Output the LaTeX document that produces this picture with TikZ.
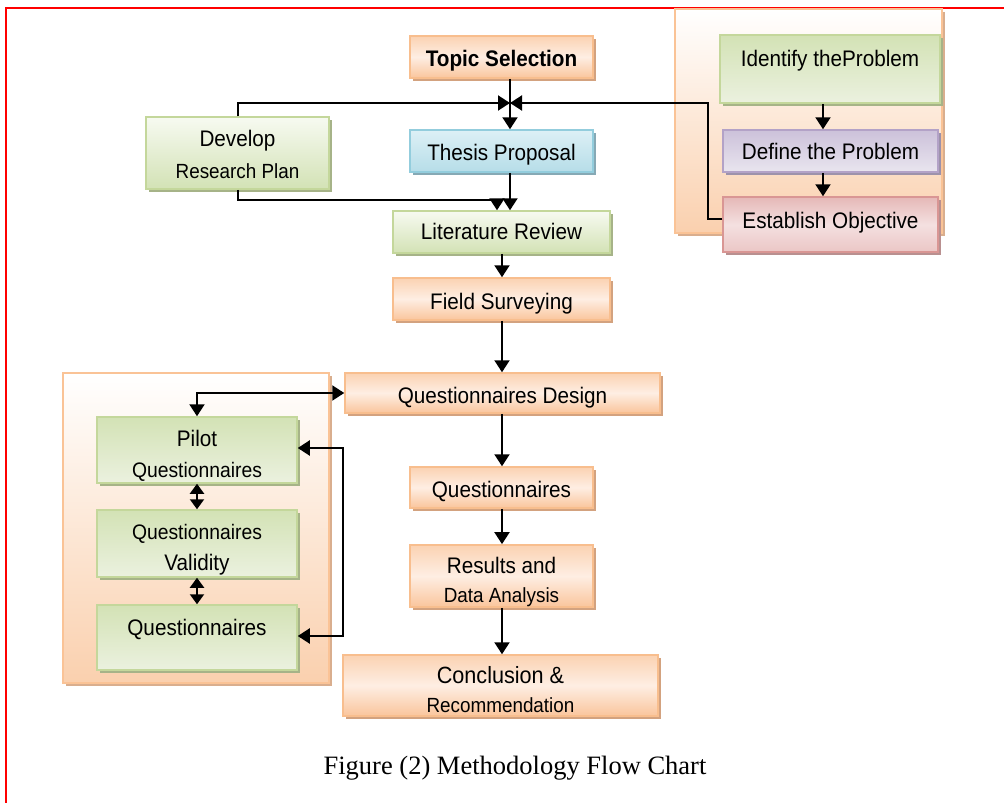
\documentclass[tikz,border=0pt]{standalone}
\usepackage{fontspec}
\setmainfont{Liberation Sans}[FakeStretch=0.92]
\newfontfamily\capfont{Liberation Serif}
\usetikzlibrary{arrows.meta,shadows,calc}
\definecolor{orB}{HTML}{F8BE8E}
\definecolor{orS}{HTML}{D3A27F}
\definecolor{orT}{HTML}{FBD2B2}
\definecolor{orM}{HTML}{FEEEE3}
\definecolor{orBt}{HTML}{FAC59C}
\definecolor{grB}{HTML}{C4D79B}
\definecolor{grS}{HTML}{A6B388}
\definecolor{grL}{HTML}{F7FAF1}
\definecolor{grD}{HTML}{D3E2B5}
\definecolor{grL2}{HTML}{EBF1DF}
\definecolor{blB}{HTML}{93CDDD}
\definecolor{blS}{HTML}{86A9B5}
\definecolor{blT}{HTML}{DDF0F6}
\definecolor{blD}{HTML}{B6DDE8}
\definecolor{puB}{HTML}{B3A2C7}
\definecolor{puS}{HTML}{9D92AB}
\definecolor{puT}{HTML}{CCC1DA}
\definecolor{puL}{HTML}{E9E5EF}
\definecolor{pkB}{HTML}{D99694}
\definecolor{pkS}{HTML}{B99090}
\definecolor{pkT}{HTML}{E5B8B7}
\definecolor{pkM}{HTML}{F4E0E0}
\definecolor{pkD}{HTML}{EBC6C5}
\definecolor{bgB}{HTML}{FAC396}
\definecolor{bgD}{HTML}{FAD0AE}
\definecolor{bgS}{HTML}{D9AE8E}
\begin{document}
\begin{tikzpicture}[x=1pt,y=-1pt,
  bx/.style={rectangle, line width=1.5pt, inner sep=0pt, align=center,
    font=\fontsize{22.5}{26}\selectfont, text=black},
  sh/.style={drop shadow={shadow xshift=3pt, shadow yshift=-3pt, opacity=1, fill=#1}},
  orbox/.style={bx, draw=orB, top color=orT, bottom color=orBt, middle color=orM, sh=orS},
  grA/.style={bx, draw=grB, top color=grL, bottom color=grD, sh=grS},
  grBx/.style={bx, draw=grB, top color=grD, bottom color=grL2, sh=grS},
  blbox/.style={bx, draw=blB, top color=blT, bottom color=blD, sh=blS},
  pubox/.style={bx, draw=puB, top color=puT, bottom color=puL, sh=puS},
  pkbox/.style={bx, draw=pkB, top color=pkT, bottom color=pkD, middle color=pkM, sh=pkS},
  bg/.style={rectangle, line width=1.5pt, inner sep=0pt, draw=bgB, top color=white, bottom color=bgD, sh=bgS},
  arr/.style={line width=2pt, -{Triangle[length=12pt,width=15pt]}},
  darr/.style={line width=2pt, {Triangle[length=12pt,width=15pt]}-{Triangle[length=12pt,width=15pt]}},
  sarr/.style={line width=2pt, {Triangle[length=10pt,width=14pt]}-{Triangle[length=10pt,width=14pt]}}
]
\useasboundingbox (0,0) rectangle (1004,803);
\draw[red, line width=2pt] (6,803) -- (6,8) -- (1004,8);

% background groups
\node[bg, minimum width=267pt, minimum height=224pt] (bgR) at (808.5,121) {};
\node[bg, minimum width=266pt, minimum height=310pt] (bgL) at (196,528) {};

% main column
\node[orbox, minimum width=183pt, minimum height=42pt, text height=18pt, text depth=0pt,
  font=\bfseries\fontsize{22.5}{26}\selectfont] (topic) at (501.5,57) {Topic Selection};
\node[blbox, minimum width=183pt, minimum height=42pt, text height=18pt, text depth=0pt] (thesis) at (501.5,151) {Thesis Proposal};
\node[grA, minimum width=183pt, minimum height=72pt] (develop) at (237.5,153)
  {\rule{0pt}{20pt}Develop\\[6pt]{\fontsize{20.5}{24}\selectfont Research Plan}};
\node[grA, minimum width=217pt, minimum height=42pt, text height=16pt, text depth=1pt] (litrev) at (501.5,232) {Literature Review};
\node[orbox, minimum width=217pt, minimum height=42pt, text height=20pt, text depth=0pt] (field) at (501.5,299) {Field Surveying};
\node[orbox, minimum width=315pt, minimum height=40pt, text height=20pt, text depth=0pt] (qdesign) at (502.5,393) {Questionnaires Design};
\node[orbox, minimum width=183pt, minimum height=41pt, text height=19pt, text depth=0pt] (quest) at (501.5,487.5) {Questionnaires};
\node[orbox, minimum width=183pt, minimum height=62pt] (results) at (501.5,576)
  {\rule{0pt}{29pt}Results and\\[3pt]{\fontsize{20.5}{24}\selectfont Data Analysis}};
\node[orbox, minimum width=315pt, minimum height=61pt] (concl) at (500.5,685.5)
  {\rule{0pt}{26pt}{\fontsize{23.5}{27}\selectfont Conclusion \&}\\[3pt]{\fontsize{20.5}{24}\selectfont Recommendation}};

% right group
\node[grBx, minimum width=220pt, minimum height=68pt, text height=16pt, text depth=22pt] (identify) at (830,69) {Identify theProblem};
\node[pubox, minimum width=215pt, minimum height=42pt, text height=16pt, text depth=0pt] (define) at (830.5,151) {Define the Problem};
\node[pkbox, minimum width=215pt, minimum height=55pt, text height=16pt, text depth=9pt] (establish) at (830.5,224.5) {Establish Objective};

% left group
\node[grBx, minimum width=200pt, minimum height=66pt] (pilot) at (197,450)
  {\rule{0pt}{27pt}Pilot\\[5pt]{\fontsize{21}{24}\selectfont Questionnaires}};
\node[grBx, minimum width=200pt, minimum height=67pt] (validity) at (197,543.5)
  {\rule{0pt}{27pt}{\fontsize{21}{24}\selectfont Questionnaires}\\[5pt]Validity};
\node[grBx, minimum width=200pt, minimum height=65pt, text height=16pt, text depth=21pt] (questL) at (197,637.5) {Questionnaires};

% caption
\node[font=\capfont\fontsize{26.5}{30}\selectfont, anchor=base] (caption) at (515,774) {Figure (2) Methodology Flow Chart};

% helper coordinates
\coordinate (j) at (510,103);
\coordinate (k) at (497,200);
\coordinate (eb) at (708,103);
\coordinate (colx) at (502,0);
\coordinate (rx) at (823,0);
\coordinate (qx) at (343,0);

% connectors
\draw[arr] (topic.south -| j) -- (thesis.north -| j);
\draw[arr] (develop.north) |- (j);
\draw[arr] ($(establish.west)+(0,-6)$) -| (eb) -- (j);
\draw[arr] (thesis.south -| j) -- (litrev.north -| j);
\draw[arr] (develop.south) |- (k) -- (litrev.north -| k);
\draw[arr] (litrev.south -| colx) -- (field.north -| colx);
\draw[arr] (field.south -| colx) -- (qdesign.north -| colx);
\draw[arr] (qdesign.south -| colx) -- (quest.north -| colx);
\draw[arr] (quest.south -| colx) -- (results.north -| colx);
\draw[arr] (results.south -| colx) -- (concl.north -| colx);
\draw[arr] (identify.south -| rx) -- (define.north -| rx);
\draw[arr] (define.south -| rx) -- (establish.north -| rx);
\draw[darr] (pilot.north) |- (qdesign.west);
\draw[darr] ($(pilot.east)+(0,-2)$) -- ($(pilot.east -| qx)+(0,-2)$) |- ($(questL.east)+(0,-1.5)$);
\draw[sarr] (pilot.south) -- (validity.north);
\draw[sarr] (validity.south) -- (questL.north);
\end{tikzpicture}
\end{document}
